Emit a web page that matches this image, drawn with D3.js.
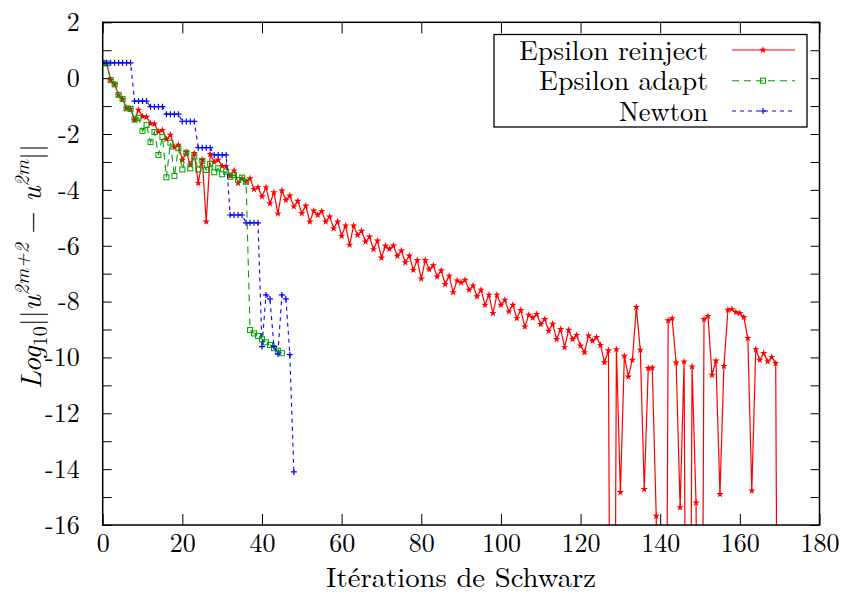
<!DOCTYPE html>
<html><head><meta charset="utf-8">
<script src="https://cdn.jsdelivr.net/npm/d3@7"></script>
</head>
<body style="margin:0;padding:0;background:#fff"><svg id="chart" width="845" height="594" style="display:block"></svg>
<script>
// ---------- data ----------
const seriesNames = ["Epsilon reinject", "Epsilon adapt", "Newton"];
const xTickValues = [0, 20, 40, 60, 80, 100, 120, 140, 160, 180];
const yTickValues = [-16,-15,-14,-13,-12,-11,-10,-9,-8,-7,-6,-5,-4,-3,-2,-1,0,1,2];

// Epsilon reinject: iterations 0..170 (very negative values fall below the axis)
const reinjectValues = [
  0.55, 0.52, -0.07, -0.22, -0.60, -0.75, -1.08, -1.10, -1.50, -1.14,
  -1.37, -1.39, -1.62, -1.64, -1.92, -1.86, -2.19, -2.03, -2.48, -2.39,
  -2.93, -2.65, -3.11, -2.69, -3.76, -2.93, -5.14, -2.72, -3.00, -2.93,
  -3.15, -3.15, -3.50, -3.31, -3.76, -3.59, -3.71, -3.59, -3.98, -3.91,
  -4.24, -3.91, -4.49, -4.09, -4.85, -4.03, -4.36, -4.21, -4.60, -4.40,
  -4.84, -4.57, -5.14, -4.75, -4.90, -4.76, -5.14, -4.96, -5.38, -5.14,
  -5.65, -5.28, -5.97, -5.28, -5.62, -5.47, -5.86, -5.68, -6.13, -5.82,
  -6.43, -6.01, -6.12, -6.00, -6.37, -6.18, -6.60, -6.36, -6.87, -6.52,
  -7.18, -6.52, -6.85, -6.71, -7.11, -6.89, -7.38, -7.08, -7.67, -7.25,
  -7.32, -7.23, -7.58, -7.43, -7.82, -7.58, -8.12, -7.76, -8.42, -7.76,
  -8.12, -7.94, -8.36, -8.12, -8.60, -8.31, -8.90, -8.48, -8.58, -8.45,
  -8.81, -8.63, -9.05, -8.80, -9.35, -8.99, -9.64, -9.02, -9.35, -9.20,
  -9.58, -9.82, -9.22, -9.41, -9.28, -9.56, -10.18, -9.75, -40, -9.71,
  -14.83, -9.95, -10.69, -10.09, -8.20, -9.73, -14.72, -10.39, -10.37, -15.68,
  -40, -40, -8.68, -8.60, -10.19, -15.37, -10.15, -40, -10.33, -15.20,
  -40, -8.63, -8.52, -10.63, -10.12, -14.90, -10.31, -8.30, -8.27, -8.38,
  -8.42, -8.56, -9.31, -14.77, -9.71, -10.09, -9.85, -10.15, -9.99, -10.21,
  -40
];
// Epsilon adapt: iterations 0..45
const adaptValues = [
  0.55, 0.53, -0.07, -0.22, -0.60, -0.75, -1.08, -1.10, -1.48, -1.42,
  -1.89, -1.68, -2.29, -1.93, -2.75, -2.11, -3.55, -2.31, -3.50, -2.51,
  -3.27, -2.67, -3.23, -2.81, -3.27, -2.96, -3.29, -3.07, -3.37, -3.23,
  -3.44, -3.35, -3.53, -3.47, -3.65, -3.56, -3.71, -9.02, -9.14, -9.23,
  -9.35, -9.46, -9.55, -9.67, -9.76, -9.85
];
// Newton: iterations 0..48
const newtonValues = [
  0.55, 0.55, 0.55, 0.55, 0.55, 0.55, 0.55, 0.55, -0.82, -0.82,
  -0.82, -0.82, -1.02, -1.02, -1.02, -1.02, -1.29, -1.29, -1.29, -1.29,
  -1.55, -1.55, -1.55, -1.55, -2.49, -2.49, -2.49, -2.49, -2.75, -2.75,
  -2.75, -2.75, -4.90, -4.90, -4.90, -4.90, -5.18, -5.18, -5.18, -5.18,
  -9.61, -7.76, -7.90, -9.61, -9.88, -7.76, -7.90, -9.90, -14.10
];

// ---------- layout ----------
const FONT = '"Latin Modern Roman", "CMU Serif", "Liberation Serif", serif';
const L = 102.7, R = 819.5, T = 22.3, B = 525;
const svg = d3.select("#chart");
const x = d3.scaleLinear().domain([0, 180]).range([L, R]);
const y = d3.scaleLinear().domain([-16, 2]).range([B, T]);

const styles = [
  {color: "#ff0000", dash: null, marker: "star"},
  {color: "#00a000", dash: "7,5", marker: "square"},
  {color: "#0000ff", dash: "4,4", marker: "plus"}
];
const seriesData = [reinjectValues, adaptValues, newtonValues];

svg.append("defs").append("clipPath").attr("id", "clip")
  .append("rect").attr("x", L).attr("y", T).attr("width", R - L).attr("height", B - T);

// ---------- axes ----------
const fs = 26;
function styleAxis(g) {
  g.attr("font-family", null);
  g.select(".domain").remove();
  g.selectAll(".tick line").attr("stroke", "#000").attr("stroke-width", 1);
  g.selectAll("text").attr("font-size", fs).attr("fill", "#000").style("font-family", FONT);
}
svg.append("g").attr("transform", `translate(0,${B})`)
  .call(d3.axisBottom(x).tickValues(xTickValues).tickSize(-11).tickPadding(9).tickFormat(d => String(d)))
  .call(styleAxis);
svg.append("g").attr("transform", `translate(0,${T})`)
  .call(d3.axisTop(x).tickValues(xTickValues).tickSize(-11).tickFormat(""))
  .call(styleAxis);
svg.append("g").attr("transform", `translate(${L},0)`)
  .call(d3.axisLeft(y).tickValues(yTickValues).tickSize(-9).tickPadding(23)
    .tickFormat(d => (d % 2 === 0 ? String(d) : "")))
  .call(styleAxis);
svg.append("g").attr("transform", `translate(${R},0)`)
  .call(d3.axisRight(y).tickValues(yTickValues).tickSize(-9).tickFormat(""))
  .call(styleAxis);

// ---------- series ----------
const plot = svg.append("g").attr("clip-path", "url(#clip)");
function drawMarker(g, kind, color) {
  if (kind === "star") {
    g.append("path").attr("d", d3.symbol().type(d3.symbolStar).size(17)())
      .attr("fill", color);
  } else if (kind === "square") {
    g.append("rect").attr("x", -2.5).attr("y", -2.5).attr("width", 5).attr("height", 5)
      .attr("fill", "none").attr("stroke", color).attr("stroke-width", 1);
  } else {
    g.append("path").attr("d", "M-3,0H3M0,-3V3")
      .attr("stroke", color).attr("stroke-width", 1.2).attr("fill", "none");
  }
}
seriesData.forEach((vals, i) => {
  const st = styles[i];
  const pts = vals.map((v, k) => [k, v]);
  const line = d3.line().x(d => x(d[0])).y(d => y(d[1]));
  plot.append("path").datum(pts).attr("d", line)
    .attr("fill", "none").attr("stroke", st.color).attr("stroke-width", i === 0 ? 1.2 : 1.1)
    .attr("stroke-dasharray", st.dash);
  const mg = plot.append("g");
  pts.filter(d => d[1] >= -16 && d[1] <= 2).forEach(d => {
    const g = mg.append("g").attr("transform", `translate(${x(d[0])},${y(d[1])})`);
    drawMarker(g, st.marker, st.color);
  });
});

// ---------- frame ----------
svg.append("rect").attr("x", L).attr("y", T).attr("width", R - L).attr("height", B - T)
  .attr("fill", "none").attr("stroke", "#000").attr("stroke-width", 1.5);

// ---------- legend ----------
const lg = svg.append("g");
lg.append("rect").attr("x", 494).attr("y", 34.5).attr("width", 313).attr("height", 92.5)
  .attr("fill", "#fff").attr("stroke", "#000").attr("stroke-width", 1.3);
const rowY = [50, 80.7, 111];
const textLen = [189, 169, 89];
seriesNames.forEach((name, i) => {
  lg.append("text").attr("x", 708).attr("y", rowY[i] + 9.5).attr("text-anchor", "end")
    .attr("font-size", 27.5).attr("fill", "#000").style("font-family", FONT)
    .attr("textLength", textLen[i]).attr("lengthAdjust", "spacingAndGlyphs")
    .text(name);
  lg.append("line").attr("x1", 732).attr("x2", 795).attr("y1", rowY[i]).attr("y2", rowY[i])
    .attr("stroke", styles[i].color).attr("stroke-width", 1.1)
    .attr("stroke-dasharray", styles[i].dash);
  const g = lg.append("g").attr("transform", `translate(763,${rowY[i]})`);
  drawMarker(g, styles[i].marker, styles[i].color);
});

// ---------- axis titles ----------
svg.append("text").attr("x", (L + R) / 2).attr("y", 587).attr("text-anchor", "middle")
  .attr("font-size", 28).attr("fill", "#000").style("font-family", FONT)
  .attr("textLength", 270).attr("lengthAdjust", "spacingAndGlyphs")
  .text("Itérations de Schwarz");

const yt = svg.append("text")
  .attr("transform", `translate(41,266.5) rotate(-90)`)
  .attr("text-anchor", "middle").attr("font-size", 28.5).attr("fill", "#000")
  .style("font-family", FONT);
yt.append("tspan").attr("font-style", "italic").text("Log");
yt.append("tspan").attr("font-size", 20).attr("dy", 6).text("10");
yt.append("tspan").attr("dy", -6).text("||");
yt.append("tspan").attr("font-style", "italic").text("u");
yt.append("tspan").attr("font-size", 20).attr("font-style", "italic").attr("dy", -12).text("2m+2");
yt.append("tspan").attr("dy", 12).text(" \u2212 ");
yt.append("tspan").attr("font-style", "italic").text("u");
yt.append("tspan").attr("font-size", 20).attr("font-style", "italic").attr("dy", -12).text("2m");
yt.append("tspan").attr("dy", 12).text("||");
</script></body></html>
